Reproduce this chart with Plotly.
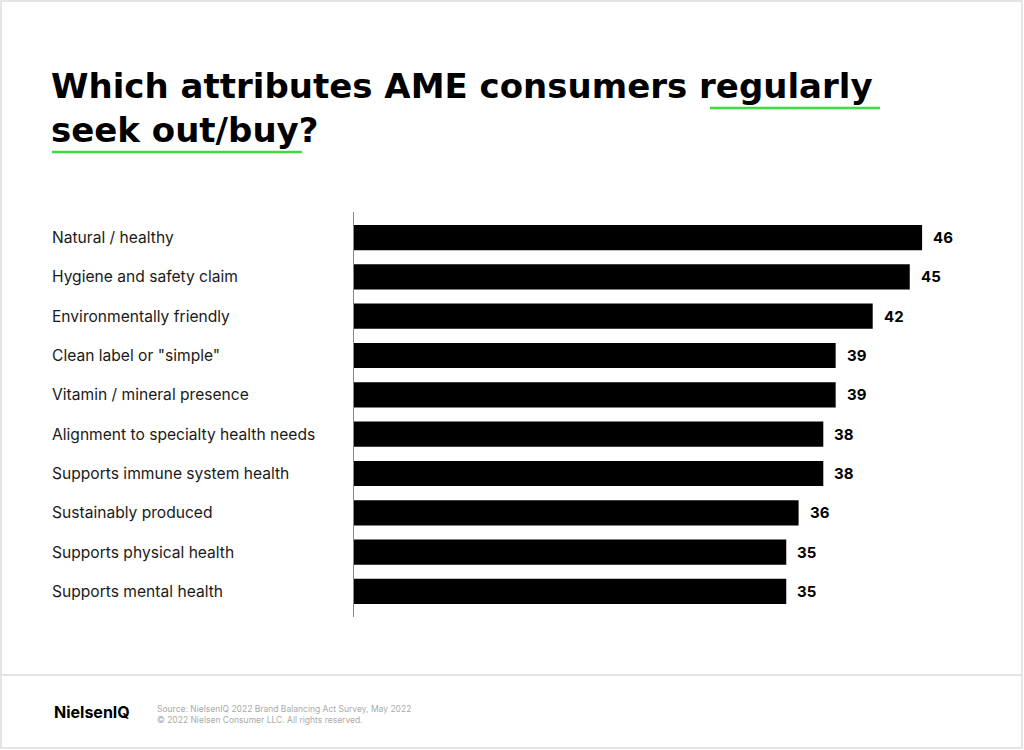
import plotly.graph_objects as go

attributes = [
    'Natural / healthy',
    'Hygiene and safety claim',
    'Environmentally friendly',
    'Clean label or "simple"',
    'Vitamin / mineral presence',
    'Alignment to specialty health needs',
    'Supports immune system health',
    'Sustainably produced',
    'Supports physical health',
    'Supports mental health',
]
shares = [46, 45, 42, 39, 39, 38, 38, 36, 35, 35]

title_line1 = 'Which attributes AME consumers regularly'
title_line2 = 'seek out/buy?'
source_lines = ['Source: NielsenIQ 2022 Brand Balancing Act Survey, May 2022',
                '\u00a9 2022 Nielsen Consumer LLC. All rights reserved.']
brand = 'NielsenIQ'

W, H = 1024, 750
L, R, T, B = 354, 24, 212, 133
PW, PH = W - L - R, H - T - B
FONT = 'Inter'
TITLE_FONT = 'DejaVu Sans'


def px(x):
    return (x - L) / PW


def py(y):
    return (H - B - y) / PH


fig = go.Figure(go.Bar(
    x=shares, y=attributes, orientation='h',
    marker=dict(color='#000000', line=dict(width=0)),
    width=0.64,
    hoverinfo='x+y',
))

ann = []
# category labels, left aligned
for a in attributes:
    ann.append(dict(x=px(52), xref='paper', y=a, yref='y', text=a,
                    showarrow=False, xanchor='left', yanchor='middle', xshift=-2,
                    font=dict(family=FONT, size=15.6, color='#1a1a1a')))
# value labels
for a, v in zip(attributes, shares):
    ann.append(dict(x=v, xref='x', y=a, yref='y', text='<b>%d</b>' % v,
                    showarrow=False, xanchor='left', yanchor='middle', xshift=9,
                    font=dict(family=FONT, size=15, color='#000000')))

# title
ann.append(dict(x=px(49), xref='paper', y=py(108), yref='paper', text='<b>' + title_line1 + '</b>',
                showarrow=False, xanchor='left', yanchor='bottom',
                font=dict(family=TITLE_FONT, size=34, color='#000000')))
ann.append(dict(x=px(49), xref='paper', y=py(152), yref='paper', text='<b>' + title_line2 + '</b>',
                showarrow=False, xanchor='left', yanchor='bottom',
                font=dict(family=TITLE_FONT, size=34, color='#000000')))

# footer
ann.append(dict(x=px(52), xref='paper', y=py(712), yref='paper', text='<b>' + brand + '</b>',
                showarrow=False, xanchor='left', yanchor='middle',
                font=dict(family=FONT, size=16, color='#000000')))
ann.append(dict(x=px(155), xref='paper', y=py(714), yref='paper', text='<br>'.join(source_lines),
                showarrow=False, xanchor='left', yanchor='middle', align='left',
                font=dict(family=FONT, size=8.5, color='#aaaaaa')))

shapes = [
    # page frame
    dict(type='rect', xref='paper', yref='paper', x0=px(1), x1=px(1022), y0=py(748), y1=py(1),
         line=dict(color='#dddddd', width=1.5), fillcolor='rgba(0,0,0,0)', layer='below'),
    # footer separator
    dict(type='line', xref='paper', yref='paper', x0=px(1), x1=px(1022), y0=py(675), y1=py(675),
         line=dict(color='#dddddd', width=1.5)),
    # green underlines
    dict(type='line', xref='paper', yref='paper', x0=px(710), x1=px(880), y0=py(108), y1=py(108),
         line=dict(color='#3fdc3f', width=2.5)),
    dict(type='line', xref='paper', yref='paper', x0=px(52), x1=px(302), y0=py(152), y1=py(152),
         line=dict(color='#3fdc3f', width=2.5)),
]

fig.update_layout(
    width=W, height=H,
    margin=dict(l=L, r=R, t=T, b=B),
    paper_bgcolor='white', plot_bgcolor='white',
    showlegend=False,
    annotations=ann,
    shapes=shapes,
    xaxis=dict(range=[0, PW / 12.35], visible=False, fixedrange=True),
    yaxis=dict(autorange=False, range=[9.65, -0.65], showticklabels=False, ticks='',
               showgrid=False, zeroline=False, showline=True, linecolor='#888888', linewidth=1,
               fixedrange=True),
    bargap=0.36,
)

fig.write_html('out.html', config={'displayModeBar': False},
               post_script="document.body.style.margin='0px';")
